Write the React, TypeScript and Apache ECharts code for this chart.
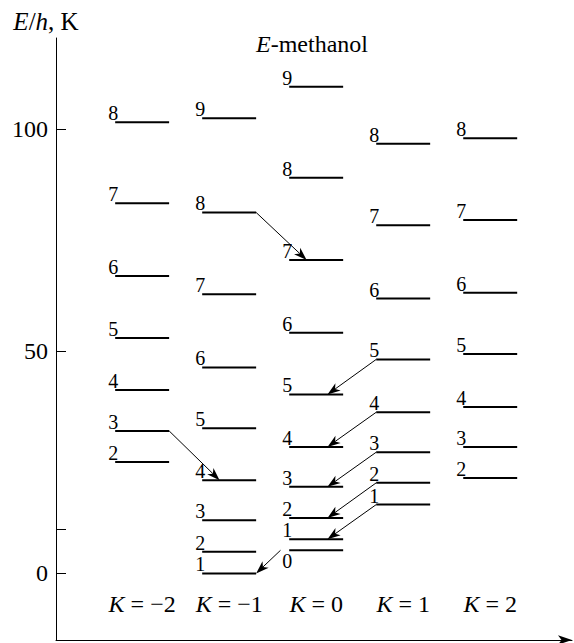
import React, { useEffect, useRef } from "react";
import * as echarts from "echarts";

// K quantum numbers of the columns
const kValues = [-2, -1, 0, 1, 2];
// lowest J in each column
const jStart = [2, 1, 0, 1, 2];
// level energies E/h (K), index 0 is J = jStart
const energyKm2 = [25.1, 32.1, 41.3, 53.0, 67.0, 83.4, 101.6];
const energyKm1 = [0, 4.9, 12.0, 21.0, 32.7, 46.4, 62.9, 81.3, 102.5];
const energyK0 = [5.2, 7.7, 12.5, 19.5, 28.5, 40.3, 54.2, 70.6, 89.1, 109.6];
const energyK1 = [15.5, 20.4, 27.3, 36.3, 48.2, 61.9, 78.4, 96.8];
const energyK2 = [21.5, 28.5, 37.5, 49.4, 63.2, 79.6, 98.0];
const columns = [energyKm2, energyKm1, energyK0, energyK1, energyK2];
// transitions [fromK, fromJ, toK, toJ]
const transitions = [
  [-2, 3, -1, 4],
  [-1, 8, 0, 7],
  [0, 0, -1, 1],
  [1, 5, 0, 5],
  [1, 4, 0, 4],
  [1, 3, 0, 3],
  [1, 2, 0, 2],
  [1, 1, 0, 1],
];
const yTickValues = [0, 10, 50, 100];
const yLabelValues = [0, 50, 100];

const FONT = "Liberation Serif";
const HW = 0.31; // half width of a level in K units

function energyOf(k: number, j: number): number {
  const ci = kValues.indexOf(k);
  return columns[ci][j - jStart[ci]];
}

export default function App() {
  const ref = useRef<HTMLDivElement>(null);
  useEffect(() => {
    if (!ref.current) return;
    const chart = echarts.init(ref.current, null, { renderer: "svg" });
    const levelData: number[][] = [];
    columns.forEach((col, ci) => {
      col.forEach((e, i) => levelData.push([kValues[ci], e, jStart[ci] + i]));
    });
    const arrowData = transitions.map(([fk, fj, tk, tj]) => {
      const y1 = energyOf(fk, fj);
      const y2 = energyOf(tk, tj);
      let x1: number, x2: number;
      if (tk > fk) {
        x1 = fk + HW;
        x2 = tk - 0.11;
      } else if (fj === tj) {
        x1 = fk - HW;
        x2 = tk + 0.13;
      } else {
        x1 = fk - HW - 0.1;
        x2 = tk + HW;
      }
      return [x1, y1, x2, y2];
    });
    const big = { fontFamily: FONT, fontSize: 24, color: "#000" };
    const bigItalic = { ...big, fontStyle: "italic" };
    chart.setOption({
      animation: false,
      title: {
        text: "{i|E}-methanol",
        left: 251,
        top: 27,
        textStyle: { ...big, fontWeight: "normal", rich: { i: bigItalic } },
      },
      grid: { left: 56, top: 38, right: 2, bottom: 3 },
      xAxis: {
        type: "value",
        min: -2.99,
        max: 2.94,
        splitLine: { show: false },
        axisTick: { show: false },
        axisLine: {
          show: true,
          onZero: false,
          lineStyle: { color: "#000", width: 1 },
          symbol: ["none", "arrow"],
          symbolSize: [7, 14],
        },
        axisLabel: {
          inside: true,
          margin: 24,
          customValues: kValues,
          formatter: (v: number) => `{i|K} = ${v < 0 ? "\u2212" + Math.abs(v) : v}`,
          ...big,
          rich: { i: bigItalic },
        },
      },
      yAxis: {
        type: "value",
        min: -15,
        max: 120.6,
        name: "{i|E}/{i|h}, K",
        nameLocation: "end",
        nameGap: 4,
        nameTextStyle: {
          ...big,
          fontSize: 25,
          align: "center",
          padding: [0, 20, 0, 0],
          rich: { i: { ...bigItalic, fontSize: 25 } },
        },
        splitLine: { show: false },
        axisLine: { show: true, onZero: false, lineStyle: { color: "#000", width: 1 } },
        axisTick: {
          show: true,
          inside: true,
          length: 10,
          customValues: yTickValues,
          lineStyle: { color: "#000" },
        },
        axisLabel: {
          customValues: yLabelValues,
          margin: 8,
          ...big,
        },
      },
      series: [
        {
          type: "custom",
          data: levelData,
          renderItem: (params: any, api: any) => {
            const k = api.value(0);
            const e = api.value(1);
            const j = api.value(2);
            const p1 = api.coord([k - HW, e]);
            const p2 = api.coord([k + HW, e]);
            const below = j === 0;
            return {
              type: "group",
              children: [
                {
                  type: "line",
                  shape: { x1: p1[0], y1: p1[1], x2: p2[0], y2: p2[1] },
                  style: { stroke: "#000", lineWidth: 2 },
                },
                {
                  type: "text",
                  style: {
                    text: String(j),
                    x: p1[0] - 2,
                    y: below ? p1[1] + 1 : p1[1] + 1,
                    align: "center",
                    verticalAlign: below ? "top" : "bottom",
                    font: `20px "${FONT}"`,
                    fill: "#000",
                  },
                },
              ],
            };
          },
        },
        {
          type: "custom",
          data: arrowData,
          renderItem: (params: any, api: any) => {
            const a = api.coord([api.value(0), api.value(1)]);
            const b = api.coord([api.value(2), api.value(3)]);
            const dx = b[0] - a[0];
            const dy = b[1] - a[1];
            const len = Math.sqrt(dx * dx + dy * dy);
            const ux = dx / len;
            const uy = dy / len;
            const nx = -uy;
            const ny = ux;
            const L = 13;
            const W = 4.5;
            const baseX = b[0] - ux * L;
            const baseY = b[1] - uy * L;
            const notchX = b[0] - ux * L * 0.72;
            const notchY = b[1] - uy * L * 0.72;
            return {
              type: "group",
              children: [
                {
                  type: "line",
                  shape: { x1: a[0], y1: a[1], x2: notchX, y2: notchY },
                  style: { stroke: "#000", lineWidth: 1 },
                },
                {
                  type: "polygon",
                  shape: {
                    points: [
                      [b[0], b[1]],
                      [baseX + nx * W, baseY + ny * W],
                      [notchX, notchY],
                      [baseX - nx * W, baseY - ny * W],
                    ],
                  },
                  style: { fill: "#000" },
                },
              ],
            };
          },
        },
      ],
    });
    return () => chart.dispose();
  }, []);
  return (
    <div
      ref={ref}
      style={{ position: "fixed", left: 0, top: 0, width: 574, height: 643, background: "#fff" }}
    />
  );
}
